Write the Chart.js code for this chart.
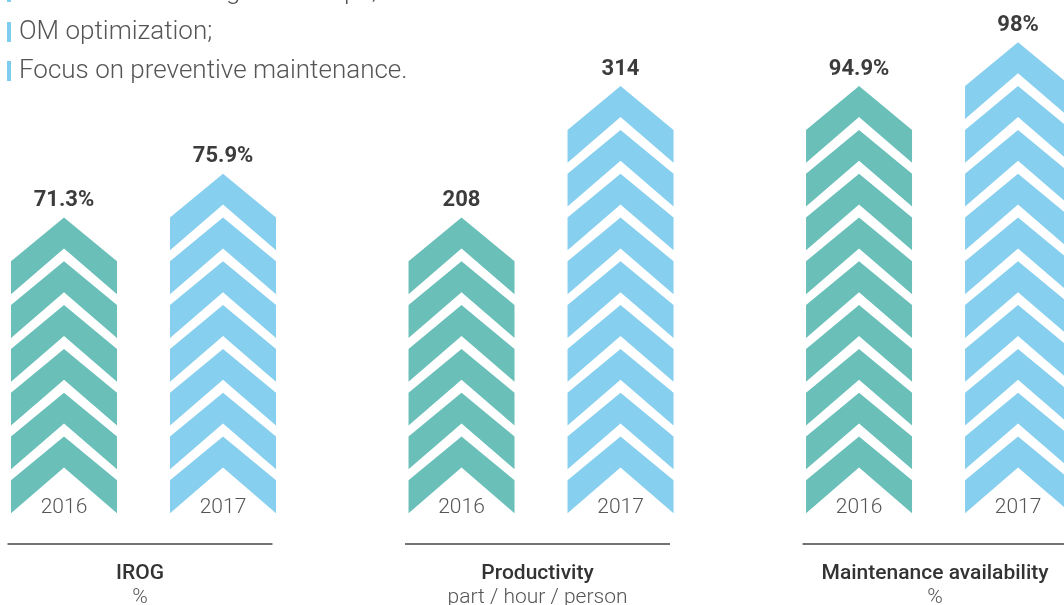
<!DOCTYPE html>
<html>
<head>
<meta charset="utf-8">
<script src="https://cdn.jsdelivr.net/npm/chart.js@4"></script>
<style>
  body { margin: 0; background: #fff; }
  #wrap { position: relative; width: 1064px; height: 605px; overflow: hidden; }
  canvas { position: absolute; left: 0; top: 0; }
  .note {
    position: absolute; left: 19px; white-space: nowrap;
    font-family: Roboto, sans-serif; font-weight: 300; font-size: 26px;
    line-height: 26px; color: #555;
  }
  .note::before {
    content: ''; position: absolute; left: -12px; top: 5px;
    width: 4px; height: 20px; background: #7fcdee;
  }
</style>
</head>
<body>
<div id="wrap">
  <canvas id="myChart" width="1064" height="605"></canvas>
  <div class="note" style="top:-23px">Reduction of changeover steps;</div>
  <div class="note" style="top:17px">OM optimization;</div>
  <div class="note" style="top:56px">Focus on preventive maintenance.</div>
</div>
<script>
// one panel per indicator, two years each
const panels = ["IROG", "Productivity", "Maintenance availability"];
const units = ["%", "part / hour / person", "%"];
const years = ["2016", "2017"];
const values2016 = [71.3, 208, 94.9];
const values2017 = [75.9, 314, 98];
const suffix = ["%", "", "%"];
// number of chevrons stacked in each column
const chevrons2016 = [6, 6, 9];
const chevrons2017 = [7, 9, 10];

const groupX = [0, 2.5, 5];

function points(counts, values, offset) {
  return counts.map((n, i) => ({ x: groupX[i] + offset, y: n, value: values[i] }));
}

// draws each bar as a stack of chevrons instead of a rectangle
const chevronPlugin = {
  id: "chevrons",
  beforeDatasetDraw(chart, args) {
    const ctx = chart.ctx;
    const ds = chart.data.datasets[args.index];
    const ys = chart.scales.y;
    const step = ys.getPixelForValue(0) - ys.getPixelForValue(1);
    ctx.save();
    args.meta.data.forEach((bar, i) => {
      const n = ds.data[i].y;
      const half = bar.width / 2;
      const l = bar.x - half, r = bar.x + half;
      ctx.fillStyle = ds.backgroundColor;
      for (let k = 0; k < n; k++) {
        const bottom = bar.base - step * k;
        ctx.beginPath();
        ctx.moveTo(l, bottom);
        ctx.lineTo(l, bottom - step * 0.75);
        ctx.lineTo(bar.x, bottom - step * 1.75);
        ctx.lineTo(r, bottom - step * 0.75);
        ctx.lineTo(r, bottom);
        ctx.lineTo(bar.x, bottom - step * 1.045);
        ctx.closePath();
        ctx.fill();
      }
      const apex = bar.base - step * (n - 1) - step * 1.75;
      ctx.textAlign = "center";
      ctx.textBaseline = "middle";
      ctx.fillStyle = "#3c3c3c";
      ctx.font = "bold 22px Roboto";
      ctx.fillText(ds.data[i].value + suffix[i], bar.x, apex - 17);
      ctx.textBaseline = "alphabetic";
      ctx.fillStyle = "#555";
      ctx.font = "300 21px Roboto";
      ctx.fillText(ds.label, bar.x, bar.base);
    });
    ctx.restore();
    return false;
  },
  afterDraw(chart) {
    const ctx = chart.ctx;
    const a = chart.getDatasetMeta(0).data;
    const b = chart.getDatasetMeta(1).data;
    ctx.save();
    panels.forEach((name, i) => {
      const c = (a[i].x + b[i].x) / 2 - 3.5;
      ctx.strokeStyle = "#444";
      ctx.lineWidth = 1.5;
      ctx.beginPath();
      ctx.moveTo(c - 132.5, 544);
      ctx.lineTo(c + 132.5, 544);
      ctx.stroke();
      ctx.textAlign = "center";
      ctx.textBaseline = "alphabetic";
      ctx.fillStyle = "#333";
      ctx.font = "500 21px Roboto";
      ctx.fillText(name, c, 579);
      ctx.fillStyle = "#555";
      ctx.font = "300 21px Roboto";
      ctx.fillText(units[i], c, 603);
    });
    ctx.restore();
  }
};

const ctx = document.getElementById("myChart").getContext("2d");

const chart1 = new Chart(ctx, {
  type: "bar",
  data: {
    datasets: [
      {
        label: years[0],
        backgroundColor: "rgb(106, 192, 185)",
        data: points(chevrons2016, values2016, 0),
      },
      {
        label: years[1],
        backgroundColor: "rgb(135, 207, 239)",
        data: points(chevrons2017, values2017, 1),
      },
    ],
  },
  options: {
    responsive: false,
    animation: false,
    grouped: false,
    barThickness: 106,
    layout: { padding: 0 },
    plugins: { legend: { display: false }, tooltip: { enabled: false } },
    scales: {
      x: { type: "linear", display: false, offset: false, min: -0.4025, max: 6.289 },
      y: { display: false, min: -2.097, max: 11.716 },
    },
  },
  plugins: [chevronPlugin],
});
</script>
</body>
</html>
